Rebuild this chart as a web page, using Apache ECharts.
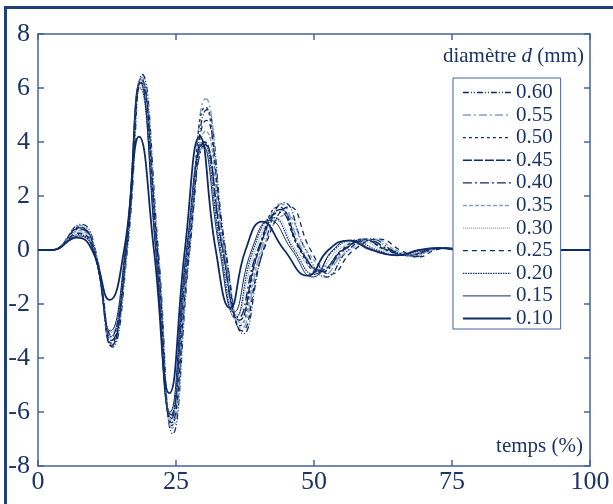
<!DOCTYPE html>
<html>
<head>
<meta charset="utf-8">
<script src="https://cdn.jsdelivr.net/npm/echarts@6/dist/echarts.min.js"></script>
<style>
  html, body { margin: 0; padding: 0; background: #fff; }
  #main { width: 613px; height: 504px; }
</style>
</head>
<body>
<div id="main"></div>
<script>
// diamètres (légende, de haut en bas)
var diametres = ['0.60', '0.55', '0.50', '0.45', '0.40', '0.35', '0.30', '0.25', '0.20', '0.15', '0.10'];
var xTicks = [0, 25, 50, 75, 100];
var yTicks = [-8, -6, -4, -2, 0, 2, 4, 6, 8];

// courbes [temps %, valeur] (extrema + passages à zéro)
var d060 = [[0,0],[2.5,0],[7.8,0.95],[10.4,0],[13.5,-3.6],[16.2,0],[18.9,6.5],[21.8,0],[24.4,-6.8],[27.5,0],[30.6,5.2],[34.0,0],[37.2,-3.1],[40.8,0],[44.6,1.75],[48.5,0],[52.2,-1.0],[56.2,0],[60.2,0.42],[64.2,0],[68.2,-0.25],[71.2,0],[74.2,0.08],[78,0],[100,0]];
var d055 = [[0,0],[2.5,0],[7.7,0.9],[10.3,0],[13.4,-3.5],[16.1,0],[18.8,6.4],[21.7,0],[24.3,-6.6],[27.4,0],[30.4,5.6],[33.8,0],[36.9,-2.9],[40.4,0],[44.0,1.7],[47.9,0],[51.6,-0.95],[55.6,0],[59.4,0.42],[63.6,0],[67.6,-0.22],[70.8,0],[73.8,0.08],[78,0],[100,0]];
var d050 = [[0,0],[2.5,0],[7.6,0.85],[10.2,0],[13.3,-3.45],[16.0,0],[18.7,6.3],[21.6,0],[24.2,-6.5],[27.3,0],[30.3,5.3],[33.6,0],[36.6,-2.8],[40.0,0],[43.6,1.6],[47.4,0],[51.1,-0.85],[55.0,0],[58.8,0.4],[63.0,0],[67.0,-0.2],[70.4,0],[73.4,0.07],[78,0],[100,0]];
var d045 = [[0,0],[2.5,0],[7.6,0.82],[10.2,0],[13.3,-3.55],[16.0,0],[18.7,6.35],[21.6,0],[24.1,-6.25],[27.2,0],[30.2,4.0],[33.5,0],[36.5,-2.6],[40.0,0],[44.0,1.5],[47.6,0],[51.2,-0.75],[55.2,0],[59.2,0.36],[63.2,0],[67.2,-0.2],[70.6,0],[73.6,0.07],[78,0],[100,0]];
var d040 = [[0,0],[2.5,0],[7.6,0.78],[10.2,0],[13.3,-3.35],[16.0,0],[18.6,6.2],[21.5,0],[24.1,-6.1],[27.2,0],[30.3,3.9],[33.4,0],[36.3,-2.5],[39.8,0],[43.8,1.4],[47.6,0],[51.5,-0.8],[55.4,0],[59.8,0.36],[63.8,0],[67.8,-0.2],[71,0],[74,0.07],[78,0],[100,0]];
var d035 = [[0,0],[2.5,0],[7.5,0.72],[10.1,0],[13.2,-3.25],[15.9,0],[18.6,6.3],[21.5,0],[24.2,-6.35],[27.3,0],[30.4,4.4],[33.7,0],[36.8,-2.7],[40.6,0],[45.0,1.3],[48.6,0],[52.2,-0.6],[56.4,0],[61.0,0.4],[64.8,0],[68.4,-0.2],[71.4,0],[74.4,0.08],[78,0],[100,0]];
var d030 = [[0,0],[2.5,0],[7.5,0.66],[10.1,0],[13.2,-3.05],[15.9,0],[18.5,6.1],[21.4,0],[24.0,-6.0],[27.0,0],[30.0,3.8],[33.2,0],[36.0,-2.4],[39.4,0],[43.0,1.2],[46.8,0],[50.6,-0.7],[54.4,0],[58.2,0.36],[62.4,0],[66.6,-0.2],[70.2,0],[73.4,0.07],[78,0],[100,0]];
var d025 = [[0,0],[2.5,0],[7.5,0.62],[10.1,0],[13.3,-3.15],[16.0,0],[18.7,6.2],[21.6,0],[24.2,-6.4],[27.4,0],[30.5,4.8],[33.9,0],[37.0,-3.0],[40.9,0],[45.6,1.6],[49.4,0],[53.0,-0.9],[57.2,0],[62.0,0.4],[65.6,0],[69.0,-0.25],[72,0],[75,0.08],[78.5,0],[100,0]];
var d020 = [[0,0],[2.5,0],[7.4,0.57],[10.0,0],[13.2,-3.2],[15.9,0],[18.5,6.0],[21.4,0],[24.0,-6.2],[27.0,0],[30.0,4.0],[33.1,0],[35.8,-2.5],[39.0,0],[42.6,1.2],[46.4,0],[50.0,-0.9],[53.6,0],[57.2,0.36],[61.4,0],[65.8,-0.2],[69.6,0],[73.0,0.07],[77,0],[100,0]];
var d015 = [[0,0],[2.5,0],[7.4,0.52],[10.0,0],[13.1,-3.0],[15.8,0],[18.5,6.2],[21.3,0],[23.9,-6.0],[26.9,0],[29.8,3.9],[32.9,0],[35.5,-2.3],[38.7,0],[42.0,1.1],[46.0,0],[49.8,-1.0],[53.4,0],[56.6,0.36],[60.8,0],[65.2,-0.2],[69.2,0],[72.6,0.07],[77,0],[100,0]];
var d010 = [[0,0],[2.5,0],[7.1,0.46],[9.8,0],[13.0,-1.85],[15.6,0],[18.3,4.2],[21.0,0],[23.8,-5.3],[26.6,0],[29.3,4.2],[32.2,0],[34.8,-2.15],[37.6,0],[40.6,1.05],[44.6,0],[48.8,-0.95],[52.6,0],[56.2,0.35],[60.4,0],[65.0,-0.2],[69,0],[72.5,0.07],[77,0],[100,0]];

var courbes = [d060, d055, d050, d045, d040, d035, d030, d025, d020, d015, d010];

var fonce = '#0d2b67';
var clair = '#8a9ec4';
var axe = '#4563a0';
var texte = '#1b3466';
var police = "'Liberation Serif', 'DejaVu Serif', serif";

// styles de trait, dans l'ordre de la légende
var styles = [
  { color: fonce, width: 1.3, type: [6, 2, 1, 2, 1, 2] },
  { color: clair, width: 1.5, type: [8, 3, 2, 3] },
  { color: fonce, width: 1.3, type: [3, 3] },
  { color: fonce, width: 1.4, type: [9, 2] },
  { color: fonce, width: 1.4, type: [9, 3, 2, 3] },
  { color: clair, width: 1.4, type: [4, 2] },
  { color: clair, width: 1.2, type: [1, 1] },
  { color: fonce, width: 1.3, type: [5, 4] },
  { color: fonce, width: 1.2, type: [1.5, 1] },
  { color: fonce, width: 1, type: 'solid' },
  { color: fonce, width: 1.8, type: 'solid' }
];

var series = courbes.map(function (c, i) {
  return {
    name: diametres[i],
    type: 'line',
    data: c,
    smooth: 0.5,
    symbol: 'none',
    xAxisIndex: 0,
    yAxisIndex: 0,
    lineStyle: styles[i],
    itemStyle: { color: styles[i].color },
    z: 2
  };
});

var legendData = diametres.map(function (d, i) {
  return { name: d, lineStyle: { width: styles[i].width } };
});

function axeX(pos, labels) {
  return {
    type: 'value', position: pos, min: 0, max: 100, interval: 25,
    axisLine: { onZero: false, lineStyle: { color: axe, width: 1.5 } },
    axisTick: { inside: true, length: 6, lineStyle: { color: axe, width: 1.5 } },
    axisLabel: { show: labels, fontFamily: police, fontSize: 26, color: texte, margin: 3,
      formatter: function (v) { return xTicks.indexOf(v) >= 0 ? String(v) : ''; } },
    splitLine: { show: false }
  };
}
function axeY(pos, labels) {
  return {
    type: 'value', position: pos, min: -8, max: 8, interval: 2,
    axisLine: { show: true, onZero: false, lineStyle: { color: axe, width: 1.5 } },
    axisTick: { show: true, inside: true, length: 6, lineStyle: { color: axe, width: 1.5 } },
    axisLabel: { show: labels, fontFamily: police, fontSize: 26, color: texte, margin: 8,
      formatter: function (v) { return yTicks.indexOf(v) >= 0 ? String(v) : ''; } },
    splitLine: { show: false }
  };
}

var myChart = echarts.init(document.getElementById('main'));
var option = {
  backgroundColor: '#fff',
  animation: false,
  grid: { left: 38, right: 23, top: 34, bottom: 38 },
  title: [
    {
      text: '{a|diamètre }{b|d}{a| (mm)}',
      right: 29, top: 46, padding: 0,
      textStyle: {
        rich: {
          a: { fontFamily: police, fontSize: 21, fontWeight: 'normal', color: texte },
          b: { fontFamily: police, fontSize: 21, fontWeight: 'normal', color: texte, fontStyle: 'italic' }
        }
      }
    },
    {
      text: 'temps (%)',
      right: 30, top: 436, padding: 0,
      textStyle: { fontFamily: police, fontSize: 21, fontWeight: 'normal', color: texte }
    }
  ],
  legend: {
    data: legendData,
    orient: 'vertical',
    left: 453, top: 78,
    padding: [4, 8, 0, 9],
    itemWidth: 48, itemHeight: 12, itemGap: 1.6,
    itemStyle: { opacity: 0 },
    backgroundColor: '#fff',
    borderColor: axe, borderWidth: 1,
    textStyle: { fontFamily: police, fontSize: 21, color: texte },
    z: 10
  },
  xAxis: [axeX('bottom', true), axeX('top', false)],
  yAxis: [axeY('left', true), axeY('right', false)],
  graphic: [
    { type: 'rect', shape: { x: 4, y: 6, width: 609, height: 3 }, style: { fill: '#1f3f7e' }, z: 100 },
    { type: 'rect', shape: { x: 4, y: 6, width: 3, height: 498 }, style: { fill: '#1f3f7e' }, z: 100 }
  ],
  series: series
};
myChart.setOption(option);
</script>
</body>
</html>
